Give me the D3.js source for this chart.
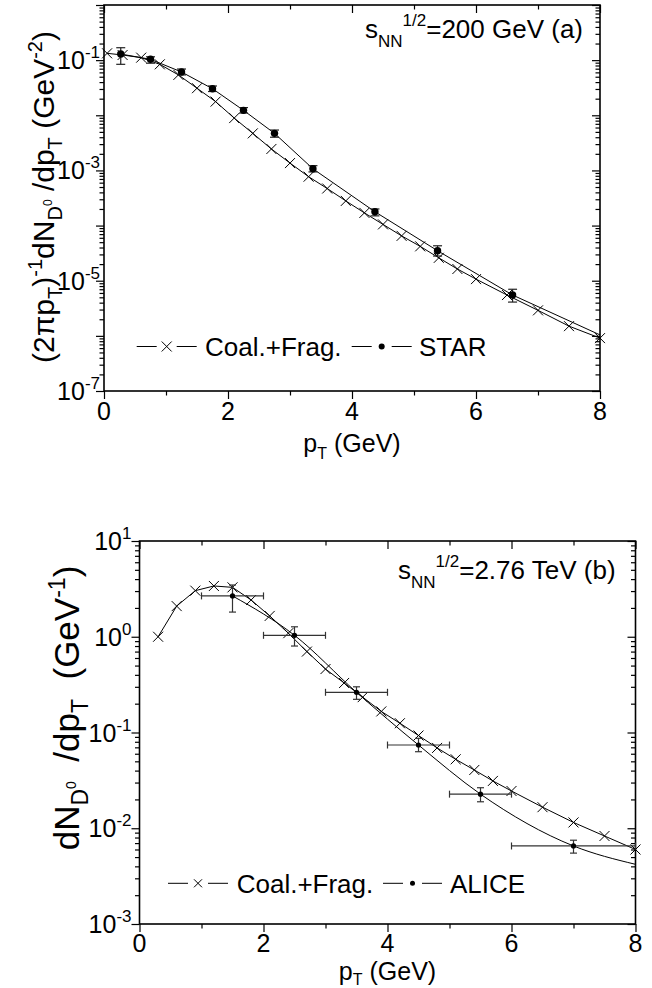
<!DOCTYPE html>
<html>
<head>
<meta charset="utf-8">
<script src="https://cdn.jsdelivr.net/npm/d3@7"></script>
<style>
  body { margin: 0; background: #fff; }
  svg { display: block; }
  text { font-family: "Liberation Sans", Arial, Helvetica, sans-serif; fill: #000; white-space: pre; }
</style>
</head>
<body>
<svg id="fig" width="652" height="988"></svg>
<script>
// ---------- panel (a): sqrt(sNN) = 200 GeV ----------
const coalPtA = [0.05, 0.3, 0.6, 0.9, 1.2, 1.5, 1.8, 2.1, 2.4, 2.7, 3.0, 3.3, 3.6, 3.9, 4.2,
                 4.5, 4.8, 5.1, 5.4, 5.7, 6.0, 6.5, 7.0, 7.5, 8.0];
const coalA   = [0.133, 0.124, 0.111, 0.084, 0.054, 0.031, 0.0177, 0.0089, 0.0047, 0.00245,
                 0.00136, 7.7e-4, 4.7e-4, 2.8e-4, 1.7e-4, 1.05e-4, 6.5e-5, 4.2e-5, 2.6e-5,
                 1.63e-5, 1.07e-5, 5.5e-6, 2.9e-6, 1.5e-6, 9.1e-7];

const starPt  = [0.27, 0.75, 1.25, 1.75, 2.25, 2.75, 3.37, 4.37, 5.38, 6.59];
const starVal = [0.129, 0.1035, 0.061, 0.0303, 0.0123, 0.0047, 0.00107, 1.78e-4, 3.5e-5, 5.5e-6];
const starHi  = [0.168, 0.115, 0.069, 0.034, 0.0138, 0.0054, 0.00122, 2.0e-4, 4.3e-5, 7.0e-6];
const starLo  = [0.084, 0.088, 0.054, 0.027, 0.0110, 0.0040, 0.00094, 1.5e-4, 2.8e-5, 4.1e-6];
// line drawn with the STAR points, carried on to 8 GeV
const starLinePt  = [0.27, 0.75, 1.25, 1.75, 2.25, 2.75, 3.37, 4.37, 5.38, 6.59, 8.0];
const starLineVal = [0.129, 0.1035, 0.061, 0.0303, 0.0123, 0.0047, 0.00107, 1.78e-4, 3.5e-5, 5.5e-6, 1.04e-6];

// ---------- panel (b): sqrt(sNN) = 2.76 TeV ----------
const coalPtB = [0.3, 0.6, 0.9, 1.2, 1.5, 1.8, 2.1, 2.4, 2.7, 3.0, 3.3, 3.6, 3.9, 4.2, 4.5,
                 4.8, 5.1, 5.4, 5.7, 6.0, 6.5, 7.0, 7.5, 8.0];
const coalB   = [1.0, 2.09, 3.03, 3.39, 3.28, 2.42, 1.65, 1.09, 0.70, 0.46, 0.329, 0.234,
                 0.166, 0.125, 0.093, 0.069, 0.0525, 0.0406, 0.0312, 0.0245, 0.0166, 0.0115,
                 0.0083, 0.0060];

const alicePt   = [1.5, 2.5, 3.5, 4.5, 5.5, 7.0];
const alicePtLo = [1, 2, 3, 4, 5, 6];
const alicePtHi = [2, 3, 4, 5, 6, 8];
const aliceVal  = [2.67, 1.035, 0.263, 0.074, 0.0227, 0.00653];
const aliceHi   = [3.47, 1.27, 0.30, 0.087, 0.0265, 0.0075];
const aliceLo   = [1.81, 0.80, 0.222, 0.063, 0.0189, 0.0055];
// smooth curve through the ALICE points, carried on to 8 GeV
const aliceLinePt  = [1.5, 2.5, 3.5, 4.5, 5.5, 7.0, 8.0];
const aliceLineVal = [2.67, 1.035, 0.263, 0.074, 0.0227, 0.00653, 0.0042];

// axis tick labels
const xTickLabels = [0, 2, 4, 6, 8];
const yExpLabelsA = [-7, -5, -3, -1];
const yExpLabelsB = [-3, -2, -1, 0, 1];

const svg = d3.select('#fig');
svg.append('rect').attr('width', 652).attr('height', 988).attr('fill', '#fff');

const FONT = 25;

// text with sub/superscripts: parts = [text, size, baseline offset]
function rich(sel, parts) {
  let cur = 0;
  parts.forEach(([t, size, off]) => {
    sel.append('tspan').attr('font-size', size).attr('dy', off - cur).text(t);
    cur = off;
  });
  return sel;
}

function decadeTicks(lo, hi) {
  const major = [], minor = [];
  for (let e = lo; e <= hi; e++) {
    major.push(Math.pow(10, e));
    if (e < hi) for (let m = 2; m < 10; m++) minor.push(m * Math.pow(10, e));
  }
  return { major, minor };
}

function drawPanel(cfg) {
  const { x, y, expLo, expHi, expLabels, ylabOff } = cfg;
  const g = svg.append('g');
  const [x0, x1] = x.range();
  const [yb, yt] = y.range();
  const { major, minor } = decadeTicks(expLo, expHi);
  const xMajor = [0, 2, 4, 6, 8], xMinor = [1, 3, 5, 7];

  const axes = [
    [d3.axisBottom(x).tickValues(xMajor).tickSize(8), `translate(0,${yb})`],
    [d3.axisBottom(x).tickValues(xMinor).tickSize(4.5), `translate(0,${yb})`],
    [d3.axisTop(x).tickValues(xMajor).tickSize(-8), `translate(0,${yt})`],
    [d3.axisTop(x).tickValues(xMinor).tickSize(-4.5), `translate(0,${yt})`],
    [d3.axisLeft(y).tickValues(major).tickSize(8), `translate(${x0},0)`],
    [d3.axisLeft(y).tickValues(minor).tickSize(4.5), `translate(${x0},0)`],
    [d3.axisRight(y).tickValues(major).tickSize(-8), `translate(${x1},0)`],
    [d3.axisRight(y).tickValues(minor).tickSize(-4.5), `translate(${x1},0)`]
  ];
  axes.forEach(([ax, tr]) => {
    g.append('g').attr('transform', tr)
      .call(ax.tickFormat(''))
      .call(s => s.select('.domain').remove())
      .call(s => s.selectAll('line').attr('stroke', '#000').attr('stroke-width', 1.2));
  });

  g.append('rect')
    .attr('x', x0).attr('y', yt).attr('width', x1 - x0).attr('height', yb - yt)
    .attr('fill', 'none').attr('stroke', '#000').attr('stroke-width', 1.6);

  // x tick labels
  g.selectAll('.xl').data(xTickLabels).join('text')
    .attr('x', d => x(d)).attr('y', yb + cfg.xLabOff)
    .attr('text-anchor', 'middle').attr('font-size', FONT)
    .text(d => d);

  // y tick labels (powers of ten)
  expLabels.forEach(e => {
    const t = g.append('text')
      .attr('x', x0 - ylabOff).attr('y', y(Math.pow(10, e)) + 9)
      .attr('text-anchor', 'end');
    rich(t, [['10', FONT, 0], [String(e), 17, -11]]);
  });

  // x axis title
  const xt = g.append('text')
    .attr('x', (x0 + x1) / 2).attr('y', cfg.xTitleY)
    .attr('text-anchor', 'middle');
  rich(xt, [['p', 25, 0], ['T', 16, cfg.xTitleSub], [' (GeV)', 25, 0]]);

  return g;
}

function crosses(g, x, y, pts, vals, h) {
  g.selectAll(null).data(pts).join('path')
    .attr('d', (d, i) => {
      const cx = x(d), cy = y(vals[i]);
      return `M${cx - h},${cy - h}L${cx + h},${cy + h}M${cx - h},${cy + h}L${cx + h},${cy - h}`;
    })
    .attr('stroke', '#000').attr('stroke-width', 1).attr('fill', 'none');
}

function polyline(g, x, y, pts, vals, curve) {
  const line = d3.line().x(d => x(d[0])).y(d => y(d[1])).curve(curve || d3.curveLinear);
  g.append('path')
    .attr('d', line(pts.map((p, i) => [p, vals[i]])))
    .attr('fill', 'none').attr('stroke', '#000').attr('stroke-width', 1);
}

// ================= panel (a) =================
const xA = d3.scaleLinear([0, 8], [104, 600]);
const yA = d3.scaleLog([1e-7, 1], [391, 5]);
const gA = drawPanel({ x: xA, y: yA, expLo: -7, expHi: 0, expLabels: yExpLabelsA, ylabOff: 4,
                       xLabOff: 29, xTitleY: 452, xTitleSub: 7 });

polyline(gA, xA, yA, coalPtA, coalA);
crosses(gA, xA, yA, coalPtA, coalA, 5);
polyline(gA, xA, yA, starLinePt, starLineVal);

starPt.forEach((p, i) => {
  const cx = xA(p), w = 4.5;
  const e = gA.append('g').attr('stroke', '#222').attr('stroke-width', 1.2);
  e.append('line').attr('x1', cx).attr('x2', cx).attr('y1', yA(starHi[i])).attr('y2', yA(starLo[i]));
  e.append('line').attr('x1', cx - w).attr('x2', cx + w).attr('y1', yA(starHi[i])).attr('y2', yA(starHi[i]));
  e.append('line').attr('x1', cx - w).attr('x2', cx + w).attr('y1', yA(starLo[i])).attr('y2', yA(starLo[i]));
});
gA.selectAll(null).data(starPt).join('circle')
  .attr('cx', d => xA(d)).attr('cy', (d, i) => yA(starVal[i])).attr('r', 3.7).attr('fill', '#000');

// annotation
rich(gA.append('text').attr('x', 365).attr('y', 38),
  [['s', 26, 0], ['NN', 17, 9], ['1/2', 17, -12], ['=200 GeV (a)', 26, 0]]);

// y axis title
rich(gA.append('text').attr('text-anchor', 'middle')
  .attr('transform', 'translate(54,197) rotate(-90)'),
  [['(2\u03c0p', 30, 0], ['T', 20, 8], [')', 30, 0], ['-1', 20, -12], ['dN', 30, 0],
   ['D', 20, 8], ['0', 12, -2], [' /dp', 30, 0], ['T', 20, 8], [' (GeV', 30, 0],
   ['-2', 20, -12], [')', 30, 0]]);

// legend
{
  const ly = 346.5, lg = gA.append('g').attr('stroke', '#000').attr('stroke-width', 1);
  [[136.7, 156.7], [176.7, 196.7], [351.7, 371.7], [391.7, 411.7]].forEach(([a, b]) =>
    lg.append('line').attr('x1', a).attr('x2', b).attr('y1', ly).attr('y2', ly));
  lg.append('path').attr('d', `M${166.7 - 5},${ly - 5}L${166.7 + 5},${ly + 5}M${166.7 - 5},${ly + 5}L${166.7 + 5},${ly - 5}`);
  gA.append('circle').attr('cx', 381.7).attr('cy', ly).attr('r', 3).attr('fill', '#000');
  gA.append('text').attr('x', 205).attr('y', 355.5).attr('font-size', 26).text('Coal.+Frag.');
  gA.append('text').attr('x', 419).attr('y', 355.5).attr('font-size', 26).text('STAR');
}

// ================= panel (b) =================
const xB = d3.scaleLinear([0, 8], [139.5, 635.5]);
const yB = d3.scaleLog([1e-3, 10], [924, 541]);
const gB = drawPanel({ x: xB, y: yB, expLo: -3, expHi: 1, expLabels: yExpLabelsB, ylabOff: 8,
                       xLabOff: 28, xTitleY: 980, xTitleSub: 5 });

polyline(gB, xB, yB, coalPtB, coalB);
crosses(gB, xB, yB, coalPtB, coalB, 5);
polyline(gB, xB, yB, aliceLinePt, aliceLineVal, d3.curveMonotoneX);

alicePt.forEach((p, i) => {
  const cx = xB(p), cy = yB(aliceVal[i]), w = 3.5;
  const e = gB.append('g').attr('stroke', '#333').attr('stroke-width', 1.2);
  e.append('line').attr('x1', cx).attr('x2', cx).attr('y1', yB(aliceHi[i])).attr('y2', yB(aliceLo[i]));
  e.append('line').attr('x1', cx - w).attr('x2', cx + w).attr('y1', yB(aliceHi[i])).attr('y2', yB(aliceHi[i]));
  e.append('line').attr('x1', cx - w).attr('x2', cx + w).attr('y1', yB(aliceLo[i])).attr('y2', yB(aliceLo[i]));
  const xl = xB(alicePtLo[i]), xr = xB(alicePtHi[i]);
  e.append('line').attr('x1', xl).attr('x2', xr).attr('y1', cy).attr('y2', cy);
  e.append('line').attr('x1', xl).attr('x2', xl).attr('y1', cy - w).attr('y2', cy + w);
  e.append('line').attr('x1', xr).attr('x2', xr).attr('y1', cy - w).attr('y2', cy + w);
});
gB.selectAll(null).data(alicePt).join('circle')
  .attr('cx', d => xB(d)).attr('cy', (d, i) => yB(aliceVal[i])).attr('r', 2.6).attr('fill', '#000');

rich(gB.append('text').attr('x', 398).attr('y', 579),
  [['s', 26, 0], ['NN', 17, 9], ['1/2', 17, -12], ['=2.76 TeV (b)', 26, 0]]);

rich(gB.append('text').attr('text-anchor', 'middle')
  .attr('transform', 'translate(79,708) rotate(-90)'),
  [['dN', 35, 0], ['D', 23, 9], ['0', 14, -3], ['  /dp', 35, 0], ['T', 23, 9], ['  (GeV', 35, 0],
   ['-1', 23, -14], [')', 35, 0]]);

{
  const ly = 883.3, lg = gB.append('g').attr('stroke', '#000').attr('stroke-width', 1);
  [[168, 188], [208, 228], [383, 403], [422, 442]].forEach(([a, b]) =>
    lg.append('line').attr('x1', a).attr('x2', b).attr('y1', ly).attr('y2', ly));
  lg.append('path').attr('d', `M${198 - 4},${ly - 4}L${198 + 4},${ly + 4}M${198 - 4},${ly + 4}L${198 + 4},${ly - 4}`);
  gB.append('circle').attr('cx', 412.5).attr('cy', ly).attr('r', 2.5).attr('fill', '#000');
  gB.append('text').attr('x', 236.7).attr('y', 892.8).attr('font-size', 26).text('Coal.+Frag.');
  gB.append('text').attr('x', 450).attr('y', 892.8).attr('font-size', 26).text('ALICE');
}
</script>
</body>
</html>
